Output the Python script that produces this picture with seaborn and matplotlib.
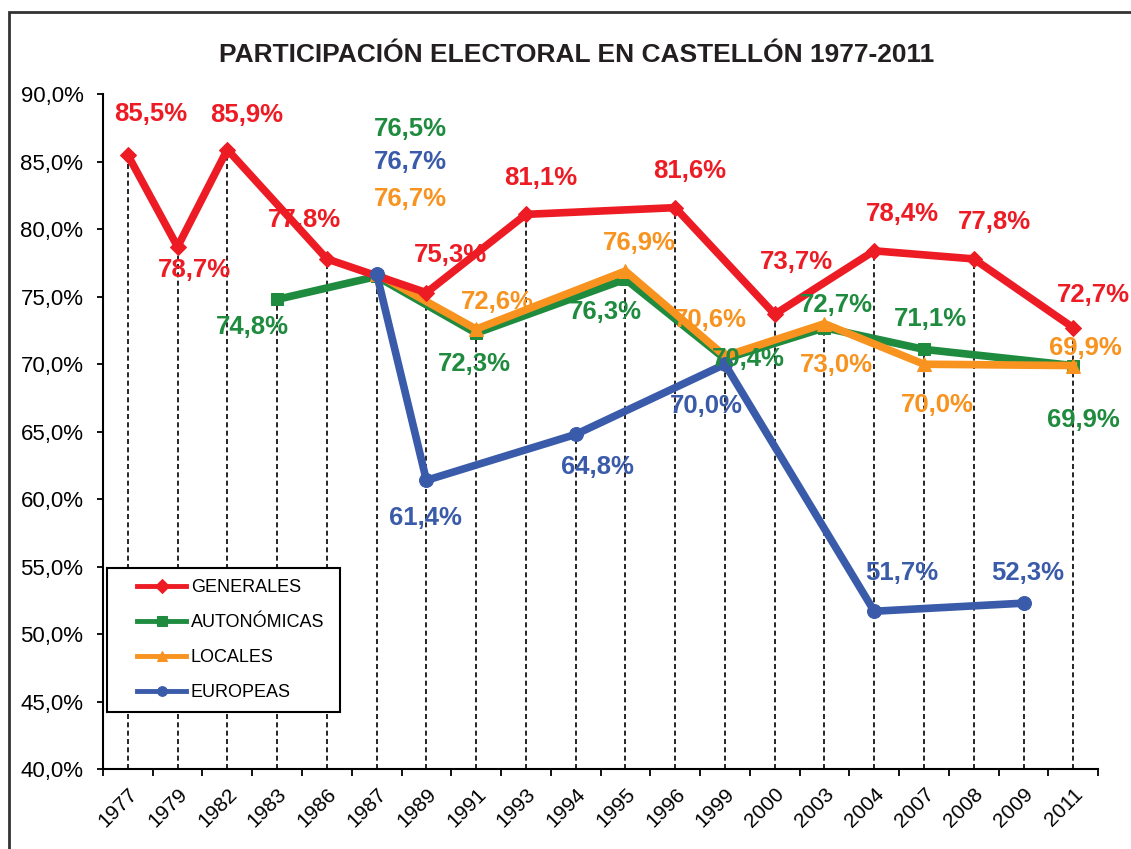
import matplotlib
matplotlib.use("Agg")
import matplotlib.pyplot as plt
import seaborn as sns
import numpy as np
import pandas as pd
from matplotlib.patches import Rectangle
from matplotlib.lines import Line2D
from matplotlib.legend_handler import HandlerLine2D
from matplotlib.ticker import FuncFormatter, FixedLocator

# data (NaN = no election that year)
years = ["1977", "1979", "1982", "1983", "1986", "1987", "1989", "1991", "1993", "1994",
         "1995", "1996", "1999", "2000", "2003", "2004", "2007", "2008", "2009", "2011"]
nan = np.nan
generales = [85.5, 78.7, 85.9, nan, 77.8, nan, 75.3, nan, 81.1, nan,
             nan, 81.6, nan, 73.7, nan, 78.4, nan, 77.8, nan, 72.7]
autonomicas = [nan, nan, nan, 74.8, nan, 76.5, nan, 72.3, nan, nan,
               76.3, nan, 70.4, nan, 72.7, nan, 71.1, nan, nan, 69.9]
locales = [nan, nan, nan, nan, nan, 76.7, nan, 72.6, nan, nan,
           76.9, nan, 70.6, nan, 73.0, nan, 70.0, nan, nan, 69.9]
europeas = [nan, nan, nan, nan, nan, 76.7, 61.4, nan, nan, 64.8,
            nan, nan, 70.0, nan, nan, 51.7, nan, nan, 52.3, nan]

# label offsets in pixels (dx, dy up), one per non-NaN point, in order
off_gen = [(23, 41), (17, -23), (19, 35), (-22, 39), (24, 38), (15, 36),
           (14, 37), (22, 52), (28, 37), (21, 37), (20, 33)]
off_aut = [(-25, -28), (34, 147), (-2, -31), (-20, -33), (23, 0), (12, 23),
           (6, 30), (10, -54)]
off_loc = [(34, 75), (21, 27), (14, 28), (-15, 36), (12, -41), (13, -41), (12, 18)]
off_eur = [(34, 112), (-1, -38), (22, -33), (-19, -42), (27, 38), (4, 30)]

series = [
    ("AUTONÓMICAS", autonomicas, "#1f8b3f", "s", 9, off_aut, 3),
    ("LOCALES", locales, "#f7931e", "^", 10, off_loc, 4),
    ("GENERALES", generales, "#ed1c24", "D", 8, off_gen, 5),
    ("EUROPEAS", europeas, "#3a5ba9", "o", 10, off_eur, 6),
]

plt.rcParams["font.family"] = ["Liberation Sans", "DejaVu Sans"]

fig = plt.figure(figsize=(11.31, 8.49), dpi=100)
ax = fig.add_axes([0.091, 0.094, 0.880, 0.795])

pos = np.arange(len(years))

# drop lines to the highest value in each year
tops = np.nanmax(np.array([generales, autonomicas, locales, europeas]), axis=0)
ax.vlines(pos, 40, tops, colors="black", linestyles=(0, (3, 2)), lw=1.2, zorder=1)

for name, vals, col, mk, ms, offs, z in series:
    df = pd.DataFrame({"pos": pos, "val": vals}).dropna()
    sns.lineplot(data=df, x="pos", y="val", color=col, lw=5.5, marker=mk,
                 markersize=ms, markeredgecolor=col, label=name, zorder=z, ax=ax)
    for (p, v), (dx, dy) in zip(df[["pos", "val"]].values, offs):
        ax.annotate(f"{v:.1f}%".replace(".", ","), (p, v), xytext=(dx, dy),
                    textcoords="offset pixels", ha="center", va="center",
                    color=col, fontsize=18.5, fontweight="bold", zorder=10)

ax.set_xlim(-0.5, len(years) - 0.5)
ax.set_ylim(40, 90)
ax.set_yticks(np.arange(40, 90.1, 5))
ax.yaxis.set_major_formatter(FuncFormatter(lambda v, _: f"{v:.1f}%".replace(".", ",")))
ax.tick_params(axis="y", labelsize=16, length=4, width=1.3, direction="out", pad=10)

ax.xaxis.set_major_locator(FixedLocator(np.arange(-0.5, len(years), 1)))
ax.xaxis.set_minor_locator(FixedLocator(pos))
ax.set_xticklabels([], minor=False)
ax.set_xticklabels(years, minor=True, rotation=45, ha="right", rotation_mode="anchor",
                   fontsize=15)
ax.tick_params(axis="x", which="major", length=5, width=1.3)
ax.tick_params(axis="x", which="minor", length=0, pad=11)
ax.set_xlabel("")
ax.set_ylabel("")

for s in ["top", "right"]:
    ax.spines[s].set_visible(False)
for s in ["left", "bottom"]:
    ax.spines[s].set_linewidth(1.5)
    ax.spines[s].set_color("black")

h, l = ax.get_legend_handles_labels()
order = [l.index(n) for n in ["GENERALES", "AUTONÓMICAS", "LOCALES", "EUROPEAS"]]
leg = ax.legend([h[i] for i in order], [l[i] for i in order], loc="lower left",
                bbox_to_anchor=(107 / 1131, 1 - 712 / 849, 233 / 1131, 140 / 849),
                bbox_transform=fig.transFigure, mode="expand",
                borderaxespad=0, fontsize=13, frameon=True, fancybox=False,
                edgecolor="black", framealpha=1, handlelength=3.8, handletextpad=0.25,
                labelspacing=1.0, borderpad=0.6,
                handler_map={Line2D: HandlerLine2D(xpad=1.05)})
leg.get_frame().set_linewidth(1.5)
leg.set_zorder(20)
for lh in leg.legend_handles:
    lh.set_linewidth(3.5)
    lh.set_markersize(7)

fig.text(0.51, 0.935, "PARTICIPACIÓN ELECTORAL EN CASTELLÓN 1977-2011",
         ha="center", va="center", fontsize=19, fontweight="bold", color="#231f20")

# outer chart frame
fig.patches.append(Rectangle((9 / 1131, -0.05), 1.2, 1 - 12 / 849 + 0.05,
                             transform=fig.transFigure, fill=False,
                             edgecolor="#333333", lw=2))

fig.savefig("out.png", dpi=100)
